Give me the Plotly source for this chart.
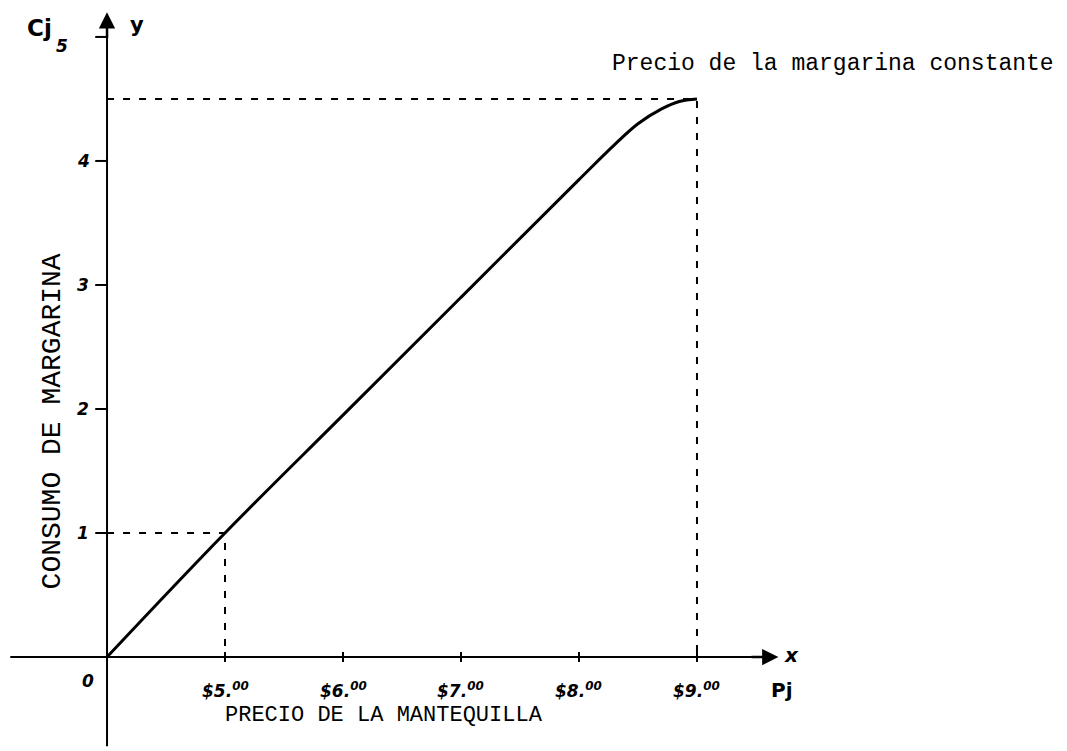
import plotly.graph_objects as go

# data (x in tick units: tick k = k-th price label)
curve_x = [0, 1, 2, 3, 4, 4.3, 4.5, 4.7, 4.85, 5.0]
curve_y = [0, 1, 1.95, 2.9, 3.85, 4.13, 4.3, 4.42, 4.48, 4.5]
x_ticks = [1, 2, 3, 4, 5]
x_ticklabels = ["$5.<sup>00</sup>", "$6.<sup>00</sup>", "$7.<sup>00</sup>", "$8.<sup>00</sup>", "$9.<sup>00</sup>"]
y_ticks = [1, 2, 3, 4, 5]
y_ticklabels = ["1", "2", "3", "4", "5"]
level_low = (1, 1)
level_high = (5, 4.5)

hand = dict(family="DejaVu Sans", size=17, color="black")
mono = "Liberation Mono"

fig = go.Figure()
# axes
fig.add_trace(go.Scatter(x=[-0.82, 5.55], y=[0, 0], mode="lines",
                         line=dict(color="black", width=2), hoverinfo="skip"))
fig.add_trace(go.Scatter(x=[0, 0], y=[-0.72, 5.05], mode="lines",
                         line=dict(color="black", width=2), hoverinfo="skip"))
# dashed guides
for (gx, gy) in [level_low, level_high]:
    fig.add_trace(go.Scatter(x=[0, gx, gx], y=[gy, gy, 0], mode="lines",
                             line=dict(color="black", width=2, dash="7px,9px"), hoverinfo="skip"))
# curve
fig.add_trace(go.Scatter(x=curve_x, y=curve_y, mode="lines", line_shape="spline",
                         line=dict(color="black", width=3), hoverinfo="skip"))
# tick marks
for t in y_ticks:
    fig.add_trace(go.Scatter(x=[-0.1, 0], y=[t, t], mode="lines",
                             line=dict(color="black", width=2), hoverinfo="skip"))
for t in x_ticks:
    fig.add_trace(go.Scatter(x=[t, t], y=[-0.04, 0.04], mode="lines",
                             line=dict(color="black", width=2), hoverinfo="skip"))

ann = []
# arrow heads
ann.append(dict(x=5.69, y=0, ax=5.45, ay=0, xref="x", yref="y", axref="x", ayref="y",
                showarrow=True, arrowhead=2, arrowsize=1.3, arrowwidth=2.5, arrowcolor="black", text=""))
ann.append(dict(x=0, y=5.2, ax=0, ay=4.98, xref="x", yref="y", axref="x", ayref="y",
                showarrow=True, arrowhead=2, arrowsize=1.3, arrowwidth=2.5, arrowcolor="black", text=""))
for t, lab in zip(x_ticks, x_ticklabels):
    ann.append(dict(x=t, y=-0.27, xref="x", yref="y", text="<b><i>" + lab + "</i></b>",
                    showarrow=False, font=hand))
for t, lab in zip(y_ticks, y_ticklabels):
    ex, ey = (-0.38, 4.93) if t == 5 else (-0.2, t)
    ann.append(dict(x=ex, y=ey, xref="x", yref="y", text="<b><i>" + lab + "</i></b>",
                    showarrow=False, font=hand))
ann.append(dict(x=-0.16, y=-0.19, xref="x", yref="y", text="<b><i>0</i></b>", showarrow=False, font=hand))
ann.append(dict(x=-0.57, y=5.07, xref="x", yref="y", text="<b>Cj</b>", showarrow=False,
                font=dict(family="DejaVu Sans", size=23, color="black")))
ann.append(dict(x=0.25, y=5.1, xref="x", yref="y", text="<b>y</b>", showarrow=False,
                font=dict(family="DejaVu Sans", size=21, color="black")))
ann.append(dict(x=5.8, y=0.02, xref="x", yref="y", text="<b><i>x</i></b>", showarrow=False,
                font=dict(family="DejaVu Sans", size=20, color="black")))
ann.append(dict(x=5.72, y=-0.27, xref="x", yref="y", text="<b>Pj</b>", showarrow=False,
                font=dict(family="DejaVu Sans", size=20, color="black")))
ann.append(dict(x=2.35, y=-0.47, xref="x", yref="y", text="PRECIO DE LA MANTEQUILLA", showarrow=False,
                font=dict(family=mono, size=22, color="black")))
ann.append(dict(x=-0.466, y=1.9, xref="x", yref="y", text="CONSUMO DE MARGARINA", textangle=-90,
                showarrow=False, font=dict(family=mono, size=28, color="black")))
ann.append(dict(x=6.15, y=4.78, xref="x", yref="y", text="Precio de la margarina constante",
                showarrow=False, font=dict(family=mono, size=23, color="black")))

fig.update_layout(
    width=1067, height=751, margin=dict(l=0, r=0, t=0, b=0),
    paper_bgcolor="white", plot_bgcolor="white", showlegend=False,
    xaxis=dict(range=[-0.907, 8.136], visible=False, fixedrange=True),
    yaxis=dict(range=[-0.758, 5.298], visible=False, fixedrange=True),
    annotations=ann,
)
fig.write_html("out.html", config={"displayModeBar": False},
               post_script="document.body.style.margin='0';document.body.style.overflow='hidden';")
